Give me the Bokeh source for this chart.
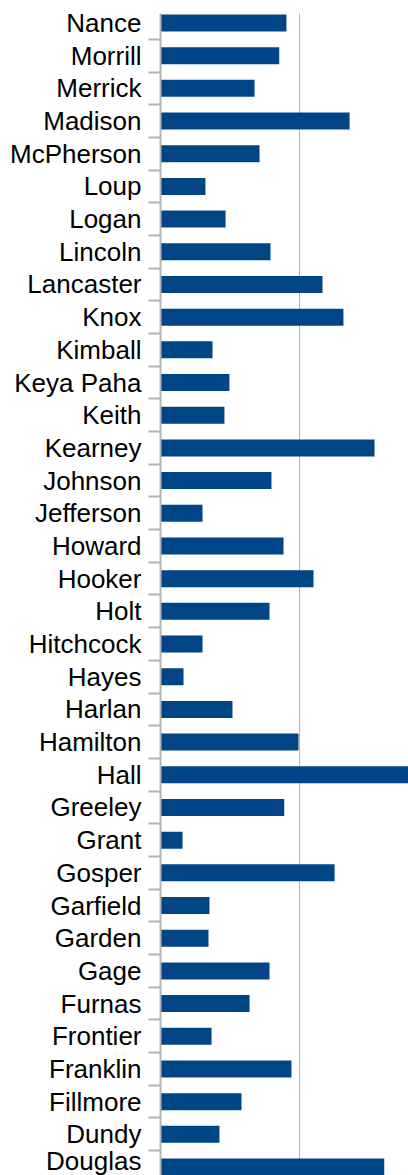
from bokeh.plotting import figure
from bokeh.models import Range1d, FixedTicker, ColumnDataSource
from bokeh.embed import file_html
from bokeh.resources import INLINE

counties = ["Nance", "Morrill", "Merrick", "Madison", "McPherson", "Loup", "Logan",
            "Lincoln", "Lancaster", "Knox", "Kimball", "Keya Paha", "Keith", "Kearney",
            "Johnson", "Jefferson", "Howard", "Hooker", "Holt", "Hitchcock", "Hayes",
            "Harlan", "Hamilton", "Hall", "Greeley", "Grant", "Gosper", "Garfield",
            "Garden", "Gage", "Furnas", "Frontier", "Franklin", "Fillmore", "Dundy",
            "Douglas"]
values = [9.08, 8.56, 6.78, 13.63, 7.14, 3.24, 4.69,
          7.93, 11.68, 13.19, 3.75, 4.97, 4.61, 15.43,
          8.0, 3.03, 8.87, 11.03, 7.86, 3.03, 1.66,
          5.19, 9.95, 18.2, 8.92, 1.59, 12.55, 3.53,
          3.46, 7.86, 6.42, 3.68, 9.44, 5.84, 4.25,
          16.13]
grid_values = [10]

ypos = [-i for i in range(len(counties))]
src = ColumnDataSource(dict(y=ypos, v=values, name=counties))

p = figure(width=408, height=1175, output_backend="svg", toolbar_location=None,
           x_range=Range1d(0, 17.88), y_range=Range1d(-35.26, 0.29),
           min_border_left=160, min_border_right=0, min_border_top=13, min_border_bottom=0)
p.outline_line_color = None
p.background_fill_color = "white"
p.border_fill_color = "white"

p.hbar(y="y", right="v", left=0, height=0.52, source=src,
       fill_color="#004586", line_color=None)

p.xaxis.visible = False
p.xgrid.ticker = FixedTicker(ticks=grid_values)
p.xgrid.grid_line_color = "#b3b3b3"
p.xgrid.grid_line_width = 1
p.ygrid.visible = False

yax = p.yaxis[0]
yax.ticker = FixedTicker(ticks=ypos, minor_ticks=[y - 0.5 for y in ypos] + [0.5])
yax.major_label_overrides = {y: n for y, n in zip(ypos, counties)}
yax.major_tick_out = 0
yax.major_tick_in = 0
yax.minor_tick_out = 12
yax.minor_tick_in = 0
yax.minor_tick_line_color = "#b3b3b3"
yax.minor_tick_line_width = 2
yax.axis_line_color = "#b3b3b3"
yax.axis_line_width = 2
yax.major_label_standoff = 7
yax.major_label_text_font = "Liberation Sans"
yax.major_label_text_font_size = "26px"
yax.major_label_text_color = "black"

open("out.html", "w").write(file_html(p, INLINE))
